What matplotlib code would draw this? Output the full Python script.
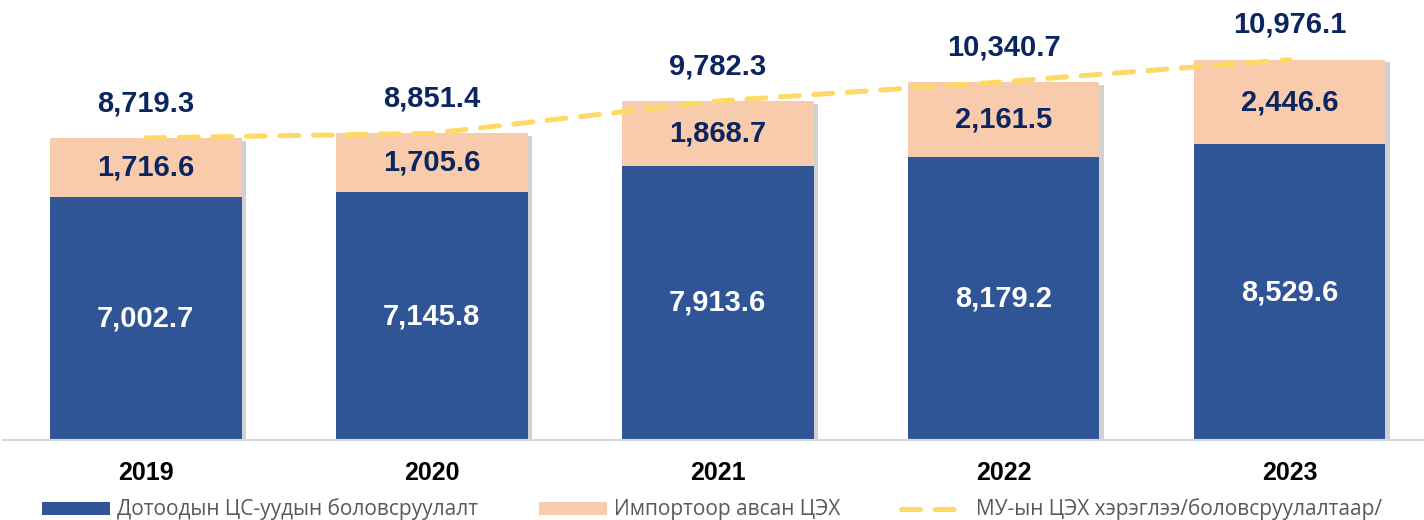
import matplotlib
matplotlib.use('Agg')
import matplotlib.pyplot as plt
import matplotlib.patheffects as pe
import numpy as np

plt.rcParams['font.family'] = ['Liberation Sans', 'DejaVu Sans']

# --- data ---
years = ['2019', '2020', '2021', '2022', '2023']
domestic = [7002.7, 7145.8, 7913.6, 8179.2, 8529.6]
imported = [1716.6, 1705.6, 1868.7, 2161.5, 2446.6]
total = [8719.3, 8851.4, 9782.3, 10340.7, 10976.1]

lbl_domestic = 'Дотоодын ЦС-уудын боловсруулалт'
lbl_imported = 'Импортоор авсан ЦЭХ'
lbl_total = 'МУ-ын ЦЭХ хэрэглээ/боловсруулалтаар/'

c_blue = '#2F5597'
c_peach = '#F8CBAD'
c_navy = '#0B2561'
c_yellow = '#FFD966'

fig = plt.figure(figsize=(14.24, 5.2), dpi=100)
ax = fig.add_axes([0, 80 / 520, 1, 440 / 520])

x = np.arange(len(years))
w = 0.67
stack_top = [d + m for d, m in zip(domestic, imported)]

# soft shadow behind the full stacks
shadow_bars = ax.bar(x, stack_top, w, color='white', zorder=1)
for r in shadow_bars:
    r.set_path_effects([pe.SimplePatchShadow(offset=(3, -2), shadow_rgbFace='#8C8C8C', alpha=0.4),
                        pe.Normal()])

b1 = ax.bar(x, domestic, w, color=c_blue, label=lbl_domestic, zorder=2)
b2 = ax.bar(x, imported, w, bottom=domestic, color=c_peach, label=lbl_imported, zorder=2)

line, = ax.plot(x, total, color=c_yellow, lw=3.6, linestyle=(0, (3.8, 2.9)),
                dash_capstyle='round', label=lbl_total, zorder=3)

# value labels
for i in range(len(years)):
    ax.text(x[i], domestic[i] / 2, f'{domestic[i]:,.1f}', ha='center', va='center',
            color='white', fontsize=21, fontweight='bold', zorder=4)
    ax.text(x[i], domestic[i] + imported[i] / 2, f'{imported[i]:,.1f}', ha='center', va='center',
            color=c_navy, fontsize=21, fontweight='bold', zorder=4)
    ax.annotate(f'{total[i]:,.1f}', (x[i], stack_top[i]), xytext=(0, 25),
                textcoords='offset points', ha='center', va='center',
                color=c_navy, fontsize=21, fontweight='bold', zorder=4)

ax.set_xlim(-0.51, 4.47)
ax.set_ylim(0, 12700)
ax.set_xticks(x)
ax.set_xticklabels(years, fontsize=18, fontweight='bold')
ax.tick_params(axis='x', length=0, pad=15)
ax.set_yticks([])
for s in ['top', 'left', 'right']:
    ax.spines[s].set_visible(False)
ax.spines['bottom'].set_color('#D9D9D9')
ax.spines['bottom'].set_linewidth(1.5)
ax.spines['bottom'].set_bounds(-0.5, 4.47)
ax.spines['bottom'].set_zorder(5)

fig.legend(handles=[b1, b2, line], labels=[lbl_domestic, lbl_imported, lbl_total],
           loc='lower center', bbox_to_anchor=(0.5, -0.037), ncol=3, frameon=False,
           prop={'family': ['Open Sans', 'DejaVu Sans'], 'size': 15},
           labelcolor='#595959', handlelength=3.25, handleheight=0.6,
           handletextpad=0.35, columnspacing=2.9)

fig.savefig('out.png', dpi=100)
